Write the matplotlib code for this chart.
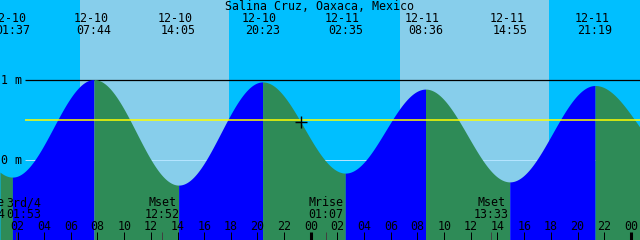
import numpy as np
import matplotlib
matplotlib.use('Agg')
import matplotlib.pyplot as plt
from matplotlib.transforms import ScaledTranslation

title = 'Salina Cruz, Oaxaca, Mexico'

# tide extremes listed along the top
tide_dates = ['12-10', '12-10', '12-10', '12-10', '12-11', '12-11', '12-11', '12-11']
tide_clock = ['01:37', '07:44', '14:05', '20:23', '02:35', '08:36', '14:55', '21:19']
tide_height = [-0.22, 1.00, -0.32, 0.97, -0.17, 0.88, -0.28, 0.925]

# extremes just outside the window, so the curve reaches both edges
edge_dates = ['12-09', '12-12']
edge_clock = ['19:25', '03:40']
edge_height = [0.93, -0.03]

# sunrise, sunset, sunrise, sunset
sun_dates = ['12-10', '12-10', '12-11', '12-11']
sun_clock = ['06:41', '17:50', '06:41', '17:52']

moon_dates = ['12-09', '12-10', '12-10', '12-11', '12-11']
moon_clock = ['23:44', '01:53', '12:52', '01:07', '13:33']
moon_label = ['Mrise', '3rd/4', 'Mset', 'Mrise', 'Mset']

mean_level = 0.49
now_date, now_clock = '12-10', '23:14'
hour_ticks = list(range(2, 49, 2))


def hours(date, clock):
    hh, mm = clock.split(':')
    return (int(date[3:]) - 10) * 24 + int(hh) + int(mm) / 60


T0, T1 = 0.6875, 48.6875          # window, hours from 12-10 00:00
PXH = 640 / (T1 - T0)             # pixels per hour
ZERO_ROW, PXM = 159.5, 80.0       # pixel row of 0 m, pixels per metre


def row(r):
    # image row (from top) -> metres
    return (ZERO_ROW - r) / PXM


# full list of extremes for the curve
ext_t = [hours(d, c) for d, c in zip(edge_dates[:1] + tide_dates + edge_dates[1:],
                                     edge_clock[:1] + tide_clock + edge_clock[1:])]
ext_h = edge_height[:1] + tide_height + edge_height[1:]


def level(t):
    i = np.clip(np.searchsorted(ext_t, t) - 1, 0, len(ext_t) - 2)
    ta, tb = np.take(ext_t, i), np.take(ext_t, i + 1)
    ha, hb = np.take(ext_h, i), np.take(ext_h, i + 1)
    return hb + (ha - hb) * (1 + np.cos(np.pi * (t - ta) / (tb - ta))) / 2


fig = plt.figure(figsize=(6.4, 2.4), dpi=100)
ax = fig.add_axes([0, 0, 1, 1])
ax.set_xlim(T0, T1)
ax.set_ylim(row(240), row(0))
ax.axis('off')
mono = dict(family='DejaVu Sans Mono', size=8.4, color='black')
bottom = row(240)

# night / day sky
ax.axvspan(T0, T1, color='#00bfff', lw=0, zorder=0)
sun_t = [hours(d, c) for d, c in zip(sun_dates, sun_clock)]
for rise, sset in zip(sun_t[0::2], sun_t[1::2]):
    ax.axvspan(rise, sset, color='#87ceeb', lw=0, zorder=0, antialiased=False)

# datum lines
x_line0 = T0 + 25 / PXH
ax.hlines(0, x_line0, T1, color='#b4e4ff', lw=0.72, zorder=1)
ax.hlines(1, x_line0, T1, color='black', lw=0.9, zorder=1)

# tide: blue while rising, green while falling
for k in range(len(ext_t) - 1):
    a, b = max(ext_t[k], T0), min(ext_t[k + 1], T1)
    if b <= a:
        continue
    t = np.linspace(a, b, 400)
    col = '#0000ff' if ext_h[k + 1] > ext_h[k] else '#2e8b57'
    ax.fill_between(t, level(t), bottom, color=col, lw=0, zorder=2, antialiased=False)

ax.hlines(mean_level, x_line0, T1, color='#ffff00', lw=1.1, zorder=3)

now_t = hours(now_date, now_clock)
ax.plot([now_t], [level(now_t)], marker='+', color='black', ms=8, mew=1.0, zorder=6)

# axis labels on the left
for val in (1, 0):
    ax.text(T0 + 1 / PXH, row(ZERO_ROW - val * PXM + 4), f'{val} m', ha='left', va='baseline', zorder=5, **mono)

# title and tide events
ax.text((T0 + T1) / 2, row(10), title, ha='center', va='baseline', zorder=5, **mono)
shift_left = ScaledTranslation(-3 / 100, 0, fig.dpi_scale_trans)
for d, c in zip(tide_dates, tide_clock):
    t = hours(d, c)
    ax.text(t, row(22), d, ha='center', va='baseline', zorder=5,
            transform=ax.transData + shift_left, **mono)
    ax.text(t, row(33.5), c, ha='center', va='baseline', zorder=5, **mono)

# hour ticks and labels
for h in hour_ticks:
    ax.vlines(h, bottom, row(232), color='black', lw=2.2 if h % 24 == 0 else 0.72, zorder=4)
    ax.text(h, row(230), f'{h % 24:02d}', ha='center', va='baseline', zorder=5, **mono)

# moon events, nudged right when they would overlap the previous one
prev_right = -1e9
for d, c, lab in zip(moon_dates, moon_clock, moon_label):
    t = hours(d, c)
    ax.vlines(t, bottom, row(232), color='#404040', lw=0.72, zorder=4)
    cx = (t - T0) * PXH
    half = max(len(lab), len(c)) * 7 / 2
    if cx - half < prev_right + 1.5:
        cx = prev_right + 1.5 + half
    prev_right = cx + half
    x = T0 + cx / PXH
    ax.text(x, row(206), lab, ha='center', va='baseline', zorder=5, **mono)
    ax.text(x, row(218), c, ha='center', va='baseline', zorder=5, **mono)

fig.savefig('out.png', dpi=100)
